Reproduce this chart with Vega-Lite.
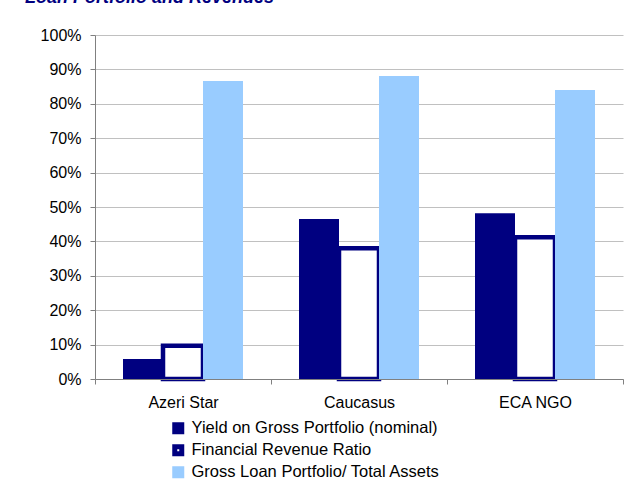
{
  "$schema": "https://vega.github.io/schema/vega-lite/v6.json",
  "autosize": {"type": "none"},
  "padding": {"left": 95, "top": 35, "right": 3, "bottom": 108},
  "width": 528,
  "height": 344,
  "background": "white",
  "title": {
    "text": "Loan Portfolio and Revenues",
    "anchor": "start",
    "frame": "group",
    "dx": -70,
    "offset": 20,
    "font": "Liberation Sans",
    "fontSize": 18,
    "fontWeight": "bold",
    "fontStyle": "italic",
    "color": "#000080"
  },
  "data": {
    "values": [
      {"mfi": "Azeri Star", "series": "Yield on Gross Portfolio (nominal)", "value": 0.058},
      {"mfi": "Azeri Star", "series": "Financial Revenue Ratio", "value": 0.097},
      {"mfi": "Azeri Star", "series": "Gross Loan Portfolio/ Total Assets", "value": 0.866},
      {"mfi": "Caucasus", "series": "Yield on Gross Portfolio (nominal)", "value": 0.465},
      {"mfi": "Caucasus", "series": "Financial Revenue Ratio", "value": 0.38},
      {"mfi": "Caucasus", "series": "Gross Loan Portfolio/ Total Assets", "value": 0.881},
      {"mfi": "ECA NGO", "series": "Yield on Gross Portfolio (nominal)", "value": 0.482},
      {"mfi": "ECA NGO", "series": "Financial Revenue Ratio", "value": 0.412},
      {"mfi": "ECA NGO", "series": "Gross Loan Portfolio/ Total Assets", "value": 0.84}
    ]
  },
  "mark": {"type": "bar", "strokeJoin": "miter"},
  "encoding": {
    "x": {
      "field": "mfi",
      "type": "nominal",
      "sort": null,
      "scale": {"paddingInner": 0, "paddingOuter": 0},
      "axis": {
        "title": null,
        "labelAngle": 0,
        "labelFont": "Liberation Sans",
        "labelFontSize": 16,
        "labelColor": "#000000",
        "labelPadding": 10,
        "tickBand": "extent",
        "tickSize": 5,
        "tickColor": "#808080",
        "domainColor": "#808080",
        "grid": false,
        "zindex": 1
      }
    },
    "xOffset": {
      "field": "series",
      "type": "nominal",
      "sort": ["Yield on Gross Portfolio (nominal)", "Financial Revenue Ratio", "Gross Loan Portfolio/ Total Assets"],
      "scale": {"paddingInner": 0, "paddingOuter": 0.7}
    },
    "y": {
      "field": "value",
      "type": "quantitative",
      "scale": {"domain": [0, 1], "nice": false},
      "axis": {
        "title": null,
        "format": ".0%",
        "values": [0, 0.1, 0.2, 0.3, 0.4, 0.5, 0.6, 0.7, 0.8, 0.9, 1],
        "labelOverlap": false,
        "labelFont": "Liberation Sans",
        "labelFontSize": 16,
        "labelColor": "#000000",
        "labelPadding": 9,
        "tickSize": 5,
        "tickColor": "#808080",
        "domainColor": "#808080",
        "gridColor": "#C0C0C0",
        "gridWidth": 1
      }
    },
    "fill": {
      "field": "series",
      "type": "nominal",
      "sort": ["Yield on Gross Portfolio (nominal)", "Financial Revenue Ratio", "Gross Loan Portfolio/ Total Assets"],
      "scale": {"range": ["#000080", "#FFFFFF", "#99CCFF"]},
      "legend": {
        "title": null,
        "orient": "none",
        "legendX": 75,
        "legendY": 385,
        "symbolType": "square",
        "symbolSize": 49,
        "symbolStrokeWidth": 5,
        "symbolOpacity": 1,
        "labelFont": "Liberation Sans",
        "labelFontSize": 16.5,
        "labelColor": "#000000",
        "labelOffset": 5,
        "rowPadding": -10.5,
        "labelLimit": 400,
        "encode": {
          "symbols": {
            "update": {
              "stroke": {"scale": "stroke", "field": "value"}
            }
          }
        }
      }
    },
    "stroke": {
      "field": "series",
      "type": "nominal",
      "sort": ["Yield on Gross Portfolio (nominal)", "Financial Revenue Ratio", "Gross Loan Portfolio/ Total Assets"],
      "scale": {"range": ["#000080", "#000080", "#99CCFF"]},
      "legend": null
    },
    "strokeWidth": {
      "condition": {"test": "datum.series === 'Financial Revenue Ratio'", "value": 4.5},
      "value": 0
    }
  },
  "config": {
    "view": {"stroke": null}
  }
}
